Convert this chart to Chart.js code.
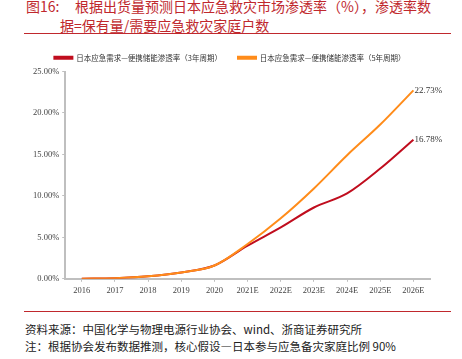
<!DOCTYPE html>
<html lang="zh">
  <head>
    <meta charset="UTF-8" />
    <script src="https://cdn.jsdelivr.net/npm/chart.js@4.4.1/dist/chart.umd.min.js"></script>
    <title>日本应急救灾市场渗透率</title>
    <style>
      body { margin: 0; background: #fff; width: 462px; height: 359px; position: relative; overflow: hidden; }
      .title { position: absolute; left: 26px; top: -3px; color: #c0282d; font-family: "Noto Sans CJK SC"; font-size: 14px; line-height: 19px; }
      .title .l2 { padding-left: 34px; }
      .rule { position: absolute; left: 24px; width: 427px; height: 1px; background: #c0282d; }
      .src { position: absolute; left: 25px; top: 321px; font-family: "Noto Sans CJK SC"; font-size: 11.5px; line-height: 17px; color: #222; }
      #wrap { position: absolute; left: 0; top: 34px; width: 462px; height: 272px; }
    </style>
  </head>
  <body>
    <div class="title">
      <div>图16:&nbsp;&nbsp;&nbsp;&nbsp;&nbsp;根据出货量预测日本应急救灾市场渗透率（%），渗透率数</div>
      <div class="l2">据=保有量/需要应急救灾家庭户数</div>
    </div>
    <div class="rule" style="top: 33px"></div>
    <div id="wrap"><canvas id="myChart"></canvas></div>
    <div class="rule" style="top: 311px"></div>
    <div class="src">
      <div>资料来源：中国化学与物理电源行业协会、wind、浙商证券研究所</div>
      <div>注：根据协会发布数据推测，核心假设—日本参与应急备灾家庭比例 90%</div>
    </div>

    <script>
      var years = ["2016", "2017", "2018", "2019", "2020", "2021E", "2022E", "2023E", "2024E", "2025E", "2026E"];
      var cycle3 = [0.02, 0.08, 0.3, 0.77, 1.6, 4.0, 6.2, 8.6, 10.3, 13.3, 16.78];
      var cycle5 = [0.02, 0.08, 0.3, 0.77, 1.6, 4.2, 7.3, 10.9, 14.9, 18.6, 22.73];
      var names = ["日本应急需求—便携储能渗透率（3年周期）", "日本应急需求—便携储能渗透率（5年周期）"];
      var yTicks = [0, 5, 10, 15, 20, 25];

      // value labels at the end of each line
      var endLabels = {
        id: "endLabels",
        afterDatasetsDraw: function (chart) {
          var ctx = chart.ctx;
          ctx.save();
          ctx.font = "9px 'Liberation Serif'";
          ctx.fillStyle = "#333";
          ctx.textBaseline = "middle";
          chart.data.datasets.forEach(function (ds, i) {
            var pts = chart.getDatasetMeta(i).data;
            var p = pts[pts.length - 1];
            var v = ds.data[ds.data.length - 1];
            ctx.fillText(v.toFixed(2) + "%", p.x + 1, p.y);
          });
          ctx.restore();
        },
      };

      var axisGrey = "#bfbfbf";

      new Chart("myChart", {
        type: "line",
        data: {
          labels: years,
          datasets: [
            {
              label: names[0],
              data: cycle3,
              borderColor: "#c00d1e",
              backgroundColor: "#c00d1e",
              borderWidth: 2,
              pointRadius: 0,
              cubicInterpolationMode: "monotone",
              fill: false,
              order: 1,
            },
            {
              label: names[1],
              data: cycle5,
              borderColor: "#ff8c1a",
              backgroundColor: "#ff8c1a",
              borderWidth: 2,
              pointRadius: 0,
              cubicInterpolationMode: "monotone",
              fill: false,
              order: 0,
            },
          ],
        },
        options: {
          responsive: true,
          maintainAspectRatio: false,
          animation: false,
          layout: { padding: { left: 30, right: 32, top: 4, bottom: 6 } },
          plugins: {
            tooltip: { enabled: false },
            legend: {
              position: "top",
              labels: {
                boxWidth: 18,
                boxHeight: 2,
                padding: 16,
                color: "#333",
                font: { family: "Noto Sans CJK SC", size: 7.5 },
                // keep legend in dataset order (draw order is changed above)
                sort: function (a, b) { return a.datasetIndex - b.datasetIndex; },
              },
            },
          },
          scales: {
            x: {
              offset: true,
              border: { color: axisGrey, width: 2 },
              grid: { drawOnChartArea: false, color: axisGrey, tickLength: 3 },
              ticks: { color: "#444", font: { family: "Liberation Serif", size: 8.5 }, maxRotation: 0, autoSkip: false, padding: 4 },
            },
            y: {
              min: 0,
              max: 25,
              afterBuildTicks: function (axis) {
                axis.ticks = yTicks.map(function (v) { return { value: v }; });
              },
              border: { color: axisGrey, width: 2 },
              grid: { drawOnChartArea: false, color: axisGrey, tickLength: 3 },
              ticks: {
                color: "#444",
                font: { family: "Liberation Serif", size: 8.5 },
                padding: 3,
                callback: function (v) { return v.toFixed(2) + "%"; },
              },
            },
          },
        },
        plugins: [endLabels],
      });
    </script>
  </body>
</html>
